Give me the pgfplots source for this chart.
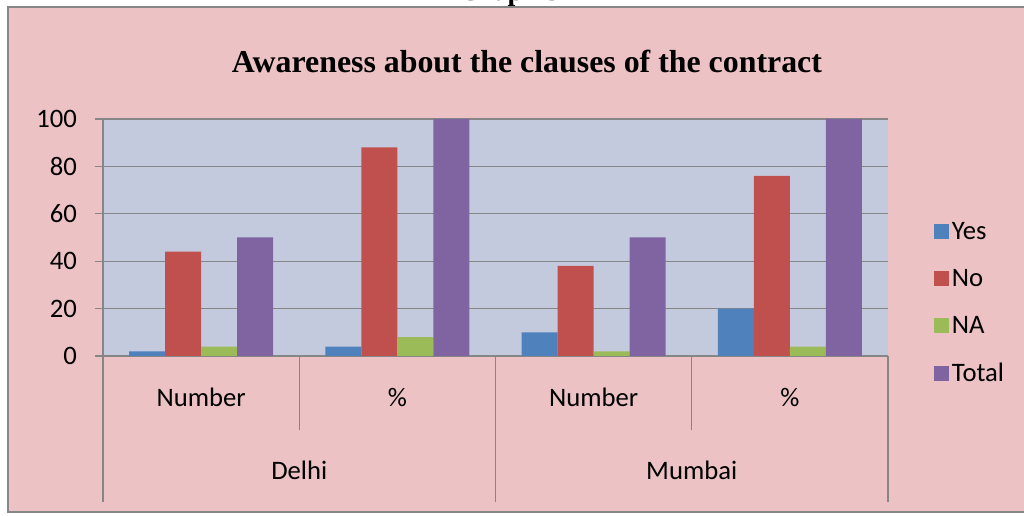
\documentclass[border=0pt]{standalone}
\usepackage{pgfplots}
\pgfplotsset{compat=1.18}
\usepackage{fontspec}
\setmainfont{Carlito}
\newfontfamily\titlefont{Liberation Serif}
\definecolor{pinkbg}{RGB}{236,194,196}
\definecolor{plotbg}{RGB}{196,202,222}
\definecolor{gridgray}{RGB}{134,134,134}
\definecolor{cyes}{HTML}{4F81BD}
\definecolor{cno}{HTML}{C0504D}
\definecolor{cna}{HTML}{9BBB59}
\definecolor{ctot}{HTML}{8064A2}
\begin{document}
\begin{tikzpicture}
\useasboundingbox (-77.25pt,-120pt) rectangle (690.75pt,267pt);
\fill[white] (-77.25pt,-120pt) rectangle (690.75pt,267pt);
\fill[pinkbg] (-71.25pt,-117pt) rectangle (690.75pt,261.75pt);
\draw[gridgray, line width=1pt] (690.75pt,-117pt) -- (-71.25pt,-117pt) -- (-71.25pt,261.75pt) -- (690.75pt,261.75pt);
\node[anchor=base, font=\titlefont\bfseries\fontsize{23.9}{27}\selectfont] at (318pt,212.25pt) {Awareness about the clauses of the contract};
\node[anchor=base, font=\titlefont\bfseries\fontsize{21}{24}\selectfont] at (305pt,266.25pt) {Graph 3};
\begin{axis}[
  at={(0,0)}, anchor=south west,
  scale only axis, width=588.75pt, height=177.75pt,
  ybar=0pt, bar width=0.1834,
  xmin=-0.5, xmax=3.5, ymin=0, ymax=100,
  xtick={0,1,2,3}, xticklabels={Number,\%,Number,\%},
  ytick={0,20,40,60,80,100},
  axis background/.style={fill=plotbg},
  axis x line*=bottom, axis y line*=left,
  axis line style={gridgray, line width=1pt},
  ymajorgrids, grid style={gridgray, line width=1pt},
  y tick style={gridgray, line width=1pt},
  x tick style={draw=none},
  major tick length=6pt,
  tick align=outside,
  tick label style={font=\fontsize{20}{23}\selectfont, text=black},
  /pgf/number format/assume math mode=true,
  xticklabel style={anchor=center, yshift=-25pt},
  yticklabel style={xshift=-10pt},
  clip=false,
  legend style={at={(1.0585,0.578)}, anchor=north west, draw=none, fill=none,
    font=\fontsize{20}{23}\selectfont, row sep=17pt, inner sep=0pt},
  legend cell align=left,
  legend image code/.code={\fill[#1] (-3.75pt,-5.6pt) rectangle (7.5pt,5.6pt);},
]
\addplot[fill=cyes, draw=none] coordinates {(0,2) (1,4) (2,10) (3,20)};
\addplot[fill=cno, draw=none] coordinates {(0,44) (1,88) (2,38) (3,76)};
\addplot[fill=cna, draw=none] coordinates {(0,4) (1,8) (2,2) (3,4)};
\addplot[fill=ctot, draw=none] coordinates {(0,50) (1,100) (2,50) (3,100)};
\legend{Yes,No,NA,Total}
\draw[gridgray, line width=1pt] (axis cs:-0.5,0) -- (axis cs:-0.5,-61.6);
\draw[gridgray, line width=1pt] (axis cs:1.5,0) -- (axis cs:1.5,-61.6);
\draw[gridgray, line width=1pt] (axis cs:3.5,0) -- (axis cs:3.5,-61.6);
\draw[gridgray, line width=1pt] (axis cs:0.5,0) -- (axis cs:0.5,-31.2);
\draw[gridgray, line width=1pt] (axis cs:2.5,0) -- (axis cs:2.5,-31.2);
\node[font=\fontsize{20}{23}\selectfont] at (axis cs:0.5,-48.1) {Delhi};
\node[font=\fontsize{20}{23}\selectfont] at (axis cs:2.5,-48.1) {Mumbai};
\end{axis}
\end{tikzpicture}
\end{document}
